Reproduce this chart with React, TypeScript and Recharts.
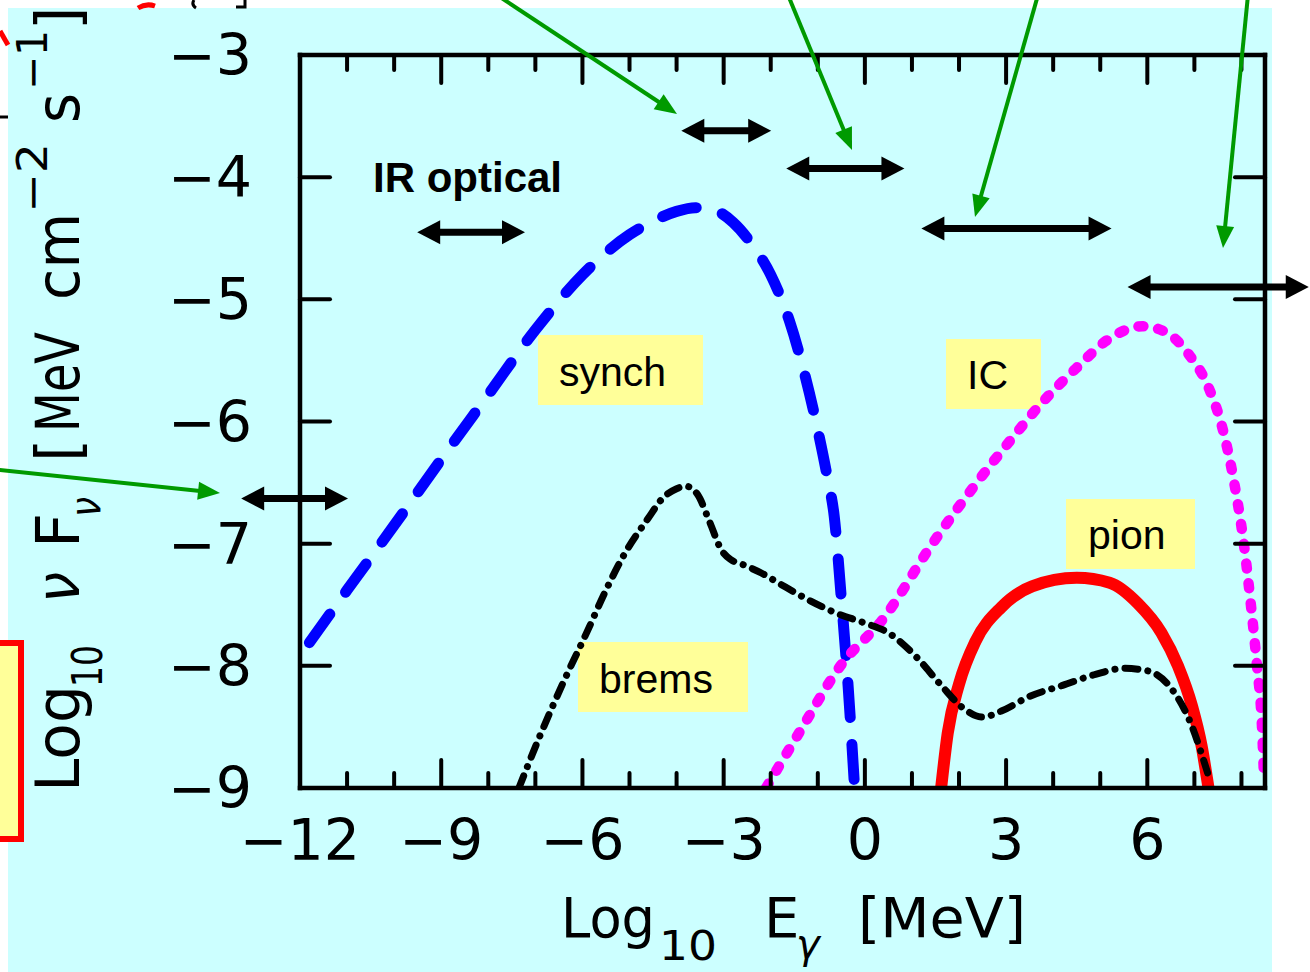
import React from "react";
import { ComposedChart, Line, XAxis, YAxis } from "recharts";

// log10 E [MeV] on x, log10 (nu F_nu) on y
const X_MIN = -12;
const X_MAX = 8.5;
const Y_MIN = -9;
const Y_MAX = -3;
const X_TICKS = [-12, -11, -10, -9, -8, -7, -6, -5, -4, -3, -2, -1, 0, 1, 2, 3, 4, 5, 6, 7, 8];
const Y_TICKS = [-9, -8, -7, -6, -5, -4, -3];

// synchrotron
const synchE = [-11.8, -11, -10, -9, -8, -7, -6, -5, -4.5, -4, -3.6, -3.2, -2.8, -2.4, -2, -1.6, -1.3, -1, -0.8, -0.65, -0.5, -0.35, -0.22];
const synchF = [-7.81, -7.38, -6.85, -6.31, -5.78, -5.25, -4.8, -4.47, -4.36, -4.28, -4.25, -4.27, -4.37, -4.55, -4.8, -5.18, -5.58, -6.07, -6.45, -6.78, -7.45, -8.2, -8.99];

// bremsstrahlung
const bremsE = [-7.35, -6.9, -6.4, -5.9, -5.5, -5.1, -4.6, -4.3, -4.0, -3.8, -3.55, -3.3, -3.05, -2.85, -2.6, -2.2, -1.8, -1.2, -0.6, 0, 0.5, 1.1, 1.6, 2.1, 2.5, 2.9, 3.5, 4.2, 4.9, 5.5, 6.0, 6.5, 6.9, 7.3];
const bremsF = [-9.0, -8.57, -8.13, -7.72, -7.38, -7.08, -6.79, -6.63, -6.55, -6.53, -6.6, -6.82, -7.05, -7.13, -7.17, -7.24, -7.33, -7.46, -7.57, -7.65, -7.73, -7.93, -8.15, -8.35, -8.42, -8.37, -8.25, -8.16, -8.07, -8.02, -8.04, -8.18, -8.45, -8.9];

// inverse Compton
const icE = [-2.1, -1.4, -0.5, 0.4, 1.4, 2.4, 3.1, 3.8, 4.5, 5.2, 5.9, 6.4, 6.9, 7.3, 7.6, 7.85, 8.05, 8.2, 8.33, 8.43, 8.48];
const icF = [-9.0, -8.55, -7.99, -7.61, -7.02, -6.49, -6.15, -5.83, -5.56, -5.32, -5.22, -5.27, -5.46, -5.72, -6.06, -6.51, -7.0, -7.5, -8.0, -8.45, -8.92];

// pion decay
const pionE = [1.62, 1.76, 2.0, 2.35, 2.9, 3.55, 4.5, 5.2, 5.8, 6.3, 6.65, 6.95, 7.15, 7.3];
const pionF = [-9.0, -8.55, -8.15, -7.8, -7.52, -7.35, -7.28, -7.32, -7.49, -7.73, -8.0, -8.33, -8.65, -9.0];

// observing bands (energy ranges) and the height at which each is marked
const bandFrom = [-13.25, -9.51, -3.9, -1.67, 1.2, 5.58];
const bandTo = [-10.98, -7.22, -1.99, 0.84, 5.24, 9.43];
const bandLevel = [-6.63, -4.45, -3.62, -3.93, -4.42, -4.9];

const W = 1310;
const H = 972;
const PLOT = { left: 300, top: 55, right: 1265, bottom: 788 };

const sx = (v: number) => PLOT.left + ((v - X_MIN) / (X_MAX - X_MIN)) * (PLOT.right - PLOT.left);
const sy = (v: number) => PLOT.top + ((Y_MAX - v) / (Y_MAX - Y_MIN)) * (PLOT.bottom - PLOT.top);

const rows = (xs: number[], ys: number[]) => xs.map((x, i) => ({ x, y: ys[i] }));
const synch = rows(synchE, synchF);
const brems = rows(bremsE, bremsF);
const ic = rows(icE, icF);
const pion = rows(pionE, pionF);

const minus = (v: number) => (v < 0 ? "\u2212" + Math.abs(v) : String(v));
const AXIS_FONT = "'DejaVu Sans', sans-serif";
const TAG_FONT = "'Liberation Sans', Arial, sans-serif";
const frame = { stroke: "#000", strokeWidth: 4.5, strokeLinecap: "square" as const };

const BottomTick = ({ x, y, payload }: any) => {
  const major = payload.value % 3 === 0;
  return (
    <g>
      <line x1={x} x2={x} y1={y} y2={y - (major ? 28 : 15)} stroke="#000" strokeWidth={4} strokeLinecap="round" />
      {major && (
        <text x={x} y={y + 72} textAnchor="middle" fontFamily={AXIS_FONT} fontSize={57} fill="#000">
          {minus(payload.value)}
        </text>
      )}
    </g>
  );
};

const TopTick = ({ x, y, payload }: any) => {
  const major = payload.value % 3 === 0;
  return <line x1={x} x2={x} y1={y} y2={y + (major ? 28 : 15)} stroke="#000" strokeWidth={4} strokeLinecap="round" />;
};

const LeftTick = ({ x, y, payload }: any) => (
  <g>
    <line x1={x} x2={x + 30} y1={y} y2={y} stroke="#000" strokeWidth={4} strokeLinecap="round" />
    <text x={x - 48} y={y + 20} textAnchor="end" fontFamily={AXIS_FONT} fontSize={57} fill="#000">
      {minus(payload.value)}
    </text>
  </g>
);

const RightTick = ({ x, y }: any) => (
  <line x1={x} x2={x - 30} y1={y} y2={y} stroke="#000" strokeWidth={4} strokeLinecap="round" />
);

// yellow name tags behind the curves
const TAGS = [
  { text: "synch", x: 538, y: 335, w: 165, h: 70, tx: 559, ty: 386 },
  { text: "IC", x: 946, y: 339, w: 95, h: 70, tx: 967, ty: 389 },
  { text: "pion", x: 1066, y: 499, w: 129, h: 70, tx: 1088, ty: 549 },
  { text: "brems", x: 578, y: 642, w: 170, h: 70, tx: 599, ty: 693 },
];

// green pointers coming in from outside the frame
const POINTERS = [
  { from: [-20, 468], to: [220, 493] },
  { from: [497, -5], to: [677, 114] },
  { from: [788, -5], to: [852, 150] },
  { from: [1038, -5], to: [975, 217] },
  { from: [1248, -5], to: [1223, 248] },
];

function DoubleArrow({ x1, x2, y }: { x1: number; x2: number; y: number }) {
  const hl = 23;
  const hw = 12;
  return (
    <g fill="#000">
      <line x1={x1 + hl - 2} x2={x2 - hl + 2} y1={y} y2={y} stroke="#000" strokeWidth={7} />
      <polygon points={`${x1},${y} ${x1 + hl},${y - hw} ${x1 + hl},${y + hw}`} />
      <polygon points={`${x2},${y} ${x2 - hl},${y - hw} ${x2 - hl},${y + hw}`} />
    </g>
  );
}

function Pointer({ from, to }: { from: number[]; to: number[] }) {
  const [x0, y0] = from;
  const [x1, y1] = to;
  const len = Math.hypot(x1 - x0, y1 - y0);
  const ux = (x1 - x0) / len;
  const uy = (y1 - y0) / len;
  const hl = 22;
  const hw = 9;
  const bx = x1 - ux * hl;
  const by = y1 - uy * hl;
  return (
    <g fill="#009a00">
      <line x1={x0} y1={y0} x2={bx + ux * 2} y2={by + uy * 2} stroke="#009a00" strokeWidth={4} />
      <polygon points={`${x1},${y1} ${bx - uy * hw},${by + ux * hw} ${bx + uy * hw},${by - ux * hw}`} />
    </g>
  );
}

// rotated piece of the y title, reading bottom to top from (x, y)
function VText({ x, y, size, len, italic, children }: any) {
  return (
    <text
      transform={`translate(${x},${y}) rotate(-90)`}
      fontFamily={AXIS_FONT}
      fontSize={size}
      fontStyle={italic ? "italic" : "normal"}
      textLength={len}
      lengthAdjust={len ? "spacingAndGlyphs" : undefined}
      fill="#000"
    >
      {children}
    </text>
  );
}

function HText({ x, y, size, len, italic, children }: any) {
  return (
    <text
      x={x}
      y={y}
      fontFamily={AXIS_FONT}
      fontSize={size}
      fontStyle={italic ? "italic" : "normal"}
      textLength={len}
      lengthAdjust={len ? "spacingAndGlyphs" : undefined}
      fill="#000"
    >
      {children}
    </text>
  );
}

export default function App() {
  return (
    <div style={{ position: "absolute", left: 0, top: 0, width: W, height: H, overflow: "hidden", background: "#fff" }}>
      <div style={{ position: "absolute", left: 8, top: 8, width: 1264, height: 964, background: "#ccffff" }} />

      <svg style={{ position: "absolute", left: 0, top: 0 }} width={W} height={H}>
        {TAGS.map((t) => (
          <g key={t.text}>
            <rect x={t.x} y={t.y} width={t.w} height={t.h} fill="#ffff99" />
            <text x={t.tx} y={t.ty} fontFamily={TAG_FONT} fontSize={41} fill="#000">
              {t.text}
            </text>
          </g>
        ))}
        <text x={373} y={192} fontFamily={TAG_FONT} fontSize={42} fontWeight="bold" fill="#000">
          IR optical
        </text>
      </svg>

      <div style={{ position: "absolute", left: 0, top: 0 }}>
        <ComposedChart width={W} height={H} margin={{ top: 0, right: 0, bottom: 0, left: 0 }}>
          <XAxis
            xAxisId="b"
            dataKey="x"
            type="number"
            domain={[X_MIN, X_MAX]}
            ticks={X_TICKS}
            interval={0}
            height={H - PLOT.bottom}
            tickSize={0}
            tickMargin={0}
            tickLine={false}
            axisLine={frame}
            tick={<BottomTick />}
            allowDataOverflow
          />
          <XAxis
            xAxisId="t"
            orientation="top"
            dataKey="x"
            type="number"
            domain={[X_MIN, X_MAX]}
            ticks={X_TICKS}
            interval={0}
            height={PLOT.top}
            tickSize={0}
            tickMargin={0}
            tickLine={false}
            axisLine={frame}
            tick={<TopTick />}
            allowDataOverflow
          />
          <YAxis
            yAxisId="l"
            type="number"
            domain={[Y_MIN, Y_MAX]}
            ticks={Y_TICKS}
            interval={0}
            width={PLOT.left}
            tickSize={0}
            tickMargin={0}
            tickLine={false}
            axisLine={frame}
            tick={<LeftTick />}
            allowDataOverflow
          />
          <YAxis
            yAxisId="r"
            orientation="right"
            type="number"
            domain={[Y_MIN, Y_MAX]}
            ticks={Y_TICKS}
            interval={0}
            width={W - PLOT.right}
            tickSize={0}
            tickMargin={0}
            tickLine={false}
            axisLine={frame}
            tick={<RightTick />}
            allowDataOverflow
          />
          <Line xAxisId="b" yAxisId="l" data={synch} dataKey="y" type="monotone" stroke="#0000ff" strokeWidth={11} strokeDasharray="35 27" strokeLinecap="round" dot={false} isAnimationActive={false} />
          <Line xAxisId="b" yAxisId="l" data={ic} dataKey="y" type="monotone" stroke="#ff00ff" strokeWidth={10.5} strokeDasharray="5 15" strokeLinecap="round" dot={false} isAnimationActive={false} />
          <Line xAxisId="b" yAxisId="l" data={pion} dataKey="y" type="monotone" stroke="#ff0000" strokeWidth={12} dot={false} isAnimationActive={false} />
          <Line xAxisId="b" yAxisId="l" data={brems} dataKey="y" type="monotone" stroke="#000" strokeWidth={7} strokeDasharray="13 10 0.1 10" strokeLinecap="round" dot={false} isAnimationActive={false} />
        </ComposedChart>
      </div>

      <svg style={{ position: "absolute", left: 0, top: 0 }} width={W} height={H}>
        {bandFrom.map((f, i) => (
          <DoubleArrow key={i} x1={sx(f)} x2={sx(bandTo[i])} y={sy(bandLevel[i])} />
        ))}
        {POINTERS.map((p, i) => (
          <Pointer key={i} from={p.from} to={p.to} />
        ))}

        {/* x title: Log10 E_gamma [MeV] */}
        <HText x={561} y={937} size={56} len={94}>Log</HText>
        <HText x={659} y={960} size={40} len={58}>10</HText>
        <HText x={764} y={937} size={56}>E</HText>
        <HText x={796} y={958} size={40} italic>γ</HText>
        <HText x={858} y={937} size={56} len={168}>[MeV]</HText>

        {/* y title: Log10 nu F_nu [MeV cm^-2 s^-1] */}
        <VText x={79} y={792} size={60} len={107}>Log</VText>
        <VText x={102} y={687} size={42} len={42}>10</VText>
        <VText x={79} y={603} size={60} len={31} italic>ν</VText>
        <VText x={79} y={548} size={60} len={35}>F</VText>
        <VText x={100} y={517} size={42} len={20} italic>ν</VText>
        <VText x={79} y={462} size={60}>[</VText>
        <VText x={79} y={432} size={60} len={100}>MeV</VText>
        <VText x={79} y={300} size={60} len={87}>cm</VText>
        <VText x={47} y={213} size={42} len={70}>{"\u22122"}</VText>
        <VText x={79} y={123} size={60} len={30}>s</VText>
        <VText x={47} y={90} size={42} len={60}>{"\u22121"}</VText>
        <VText x={79} y={30} size={60}>]</VText>

        {/* pieces of neighbouring panels */}
        <rect x={-10} y={643} width={31} height={196} fill="#ffff99" stroke="#ff0000" strokeWidth={6} />
        <path d="M0,31 Q4,38 8,45" stroke="#ff0000" strokeWidth={5} fill="none" />
        <path d="M138,8 Q146,3 155,6" stroke="#ff0000" strokeWidth={5} fill="none" />
        <line x1={0} x2={8} y1={117} y2={117} stroke="#000" strokeWidth={3} />
        <path d="M194,0 Q191,5 196,8" stroke="#000" strokeWidth={3} fill="none" />
        <path d="M245,0 L245,7 L236,7" stroke="#000" strokeWidth={3} fill="none" />
      </svg>
    </div>
  );
}
